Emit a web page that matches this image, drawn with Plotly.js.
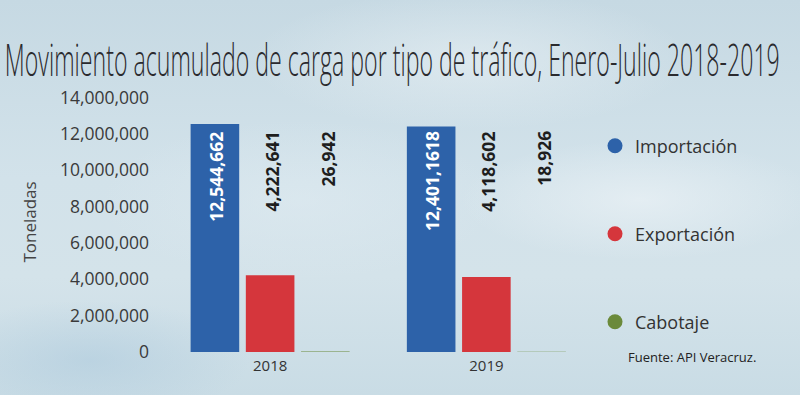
<!DOCTYPE html>
<html>
<head>
<meta charset="utf-8">
<script src="https://cdn.plot.ly/plotly-3.0.1.min.js"></script>
<style>
html,body{margin:0;padding:0;}
body{
  width:800px;height:395px;overflow:hidden;
  background:
    radial-gradient(ellipse 180px 60px at 640px 200px, rgba(235,242,246,0.7), rgba(235,242,246,0) 100%),
    radial-gradient(ellipse 220px 70px at 470px 60px, rgba(232,240,244,0.6), rgba(232,240,244,0) 100%),
    radial-gradient(ellipse 160px 60px at 90px 360px, rgba(170,200,220,0.5), rgba(170,200,220,0) 100%),
    radial-gradient(ellipse 200px 80px at 300px 200px, rgba(225,236,242,0.5), rgba(225,236,242,0) 100%),
    linear-gradient(180deg, #c6d9e3 0%, #d2e2ea 45%, #d4e3ea 70%, #c9dce5 100%);
}
#chart{width:800px;height:395px;}
</style>
</head>
<body>
<div id="chart"></div>
<script>
// ---- data ----
const years = ['2018', '2019'];
const seriesNames = ['Importación', 'Exportación', 'Cabotaje'];
const importacion = [12544662, 12401618];
const exportacion = [4222641, 4118602];
const cabotaje = [26942, 18926];
const importacionLabels = ['12,544,662', '12,401,1618'];
const exportacionLabels = ['4,222,641', '4,118,602'];
const cabotajeLabels = ['26,942', '18,926'];
const yTickVals = [0, 2000000, 4000000, 6000000, 8000000, 10000000, 12000000, 14000000];
const yTickText = ['0', '2,000,000', '4,000,000', '6,000,000', '8,000,000', '10,000,000', '12,000,000', '14,000,000'];

// ---- styles ----
const colors = ['#2d62a9', '#d5363c', '#6b8a3a'];
const values = [importacion, exportacion, cabotaje];
const labels = [importacionLabels, exportacionLabels, cabotajeLabels];
const labelColors = ['#ffffff', '#1e1e1e', '#1e1e1e'];
const font = '"Open Sans", sans-serif';

const traces = [];
values.forEach((v, i) => {
  traces.push({
    type: 'bar', x: years, y: v, name: seriesNames[i],
    marker: {color: colors[i]}, showlegend: false, hoverinfo: 'skip'
  });
});
const legendIds = ['legend', 'legend2', 'legend3'];
seriesNames.forEach((n, i) => {
  traces.push({
    type: 'scatter', mode: 'markers', x: [null], y: [null], name: n,
    marker: {color: colors[i], size: 15, symbol: 'circle'},
    legend: legendIds[i], showlegend: true, hoverinfo: 'skip'
  });
});

// plot geometry (pixels) for converting label positions to paper coords
const L = 162, PW = 436.5, T = 91.7, PH = 260.3;
const groupPx = 167, nb = 3;
const slot = groupPx / nb;
const annotations = [];
years.forEach((yr, j) => {
  labels.forEach((lab, i) => {
    annotations.push({
      x: j, xref: 'x', xshift: (i - 1) * slot + 2,
      y: (T + PH - 129) / PH, yref: 'paper', yanchor: 'top', xanchor: 'center',
      text: '<b>' + lab[j] + '</b>', textangle: -90, showarrow: false,
      font: {family: font, size: 17.5, color: labelColors[i]}
    });
  });
});
annotations.push({
  x: (630 - L) / PW, xref: 'paper', xanchor: 'left',
  y: (T + PH - 357) / PH, yref: 'paper', yanchor: 'middle',
  text: 'Fuente: API Veracruz.', showarrow: false,
  font: {family: font, size: 13, color: '#222'}
});

const legendBase = {
  xref: 'container', x: 595 / 800, xanchor: 'left', yref: 'container', yanchor: 'middle',
  bgcolor: 'rgba(0,0,0,0)', font: {family: font, size: 18, color: '#333'}
};
const layout = {
  width: 800, height: 395,
  paper_bgcolor: 'rgba(0,0,0,0)', plot_bgcolor: 'rgba(0,0,0,0)',
  margin: {l: L, r: 800 - L - PW, t: T, b: 395 - T - PH, pad: 0},
  title: {
    text: 'Movimiento acumulado de carga por tipo de tráfico, Enero-Julio 2018-2019',
    x: 0.006, xanchor: 'left', xref: 'container',
    y: 1 - 60 / 395, yanchor: 'middle', yref: 'container',
    font: {family: '"Open Sans", sans-serif', size: 45, weight: 300, color: '#2a2a2e'}
  },
  barmode: 'group', bargap: 0.234, bargroupgap: 0.12,
  xaxis: {
    type: 'category', range: [-0.5, 1.5], showgrid: false, zeroline: false, showline: false,
    ticks: '', ticklabelstandoff: 3, tickfont: {family: font, size: 15, color: '#333'}, fixedrange: true
  },
  yaxis: {
    range: [0, 14300000], tickvals: yTickVals, ticktext: yTickText,
    showgrid: false, zeroline: false, showline: false, ticks: '',
    ticklabelstandoff: 12,
    tickfont: {family: font, size: 17.5, color: '#3a3a3a'},
    title: {text: 'Toneladas', font: {family: font, size: 17, color: '#444'}, standoff: 18},
    fixedrange: true
  },
  legend: Object.assign({}, legendBase, {y: 1 - 146 / 395}),
  legend2: Object.assign({}, legendBase, {y: 1 - 234 / 395}),
  legend3: Object.assign({}, legendBase, {y: 1 - 322 / 395}),
  annotations: annotations
};
Plotly.newPlot('chart', traces, layout, {displayModeBar: false, staticPlot: true}).then(gd => {
  const t = gd.querySelector('.gtitle');
  if (t) {
    t.setAttribute('textLength', '775');
    t.setAttribute('lengthAdjust', 'spacingAndGlyphs');
  }
});
</script>
</body>
</html>
